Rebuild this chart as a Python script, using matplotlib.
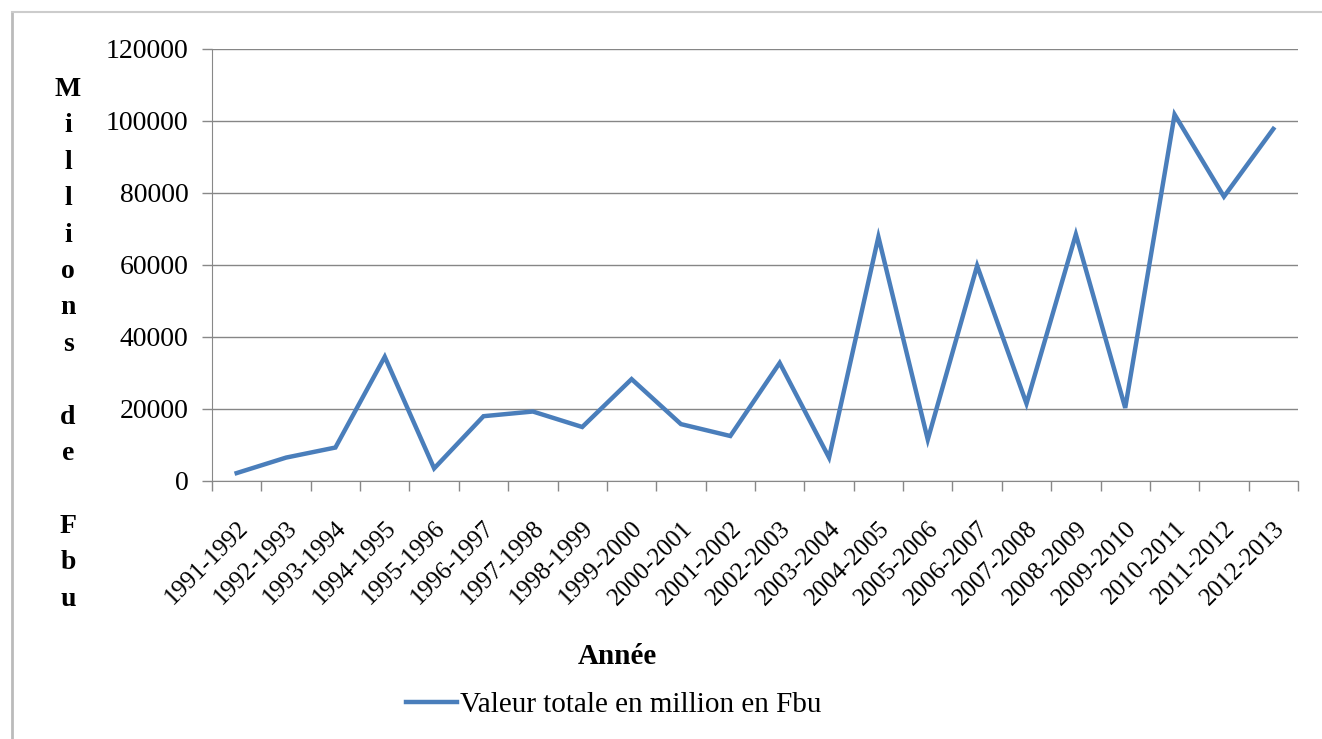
import matplotlib
matplotlib.use("Agg")
import matplotlib.pyplot as plt
from matplotlib.lines import Line2D

years = ["1991-1992", "1992-1993", "1993-1994", "1994-1995", "1995-1996",
         "1996-1997", "1997-1998", "1998-1999", "1999-2000", "2000-2001",
         "2001-2002", "2002-2003", "2003-2004", "2004-2005", "2005-2006",
         "2006-2007", "2007-2008", "2008-2009", "2009-2010", "2010-2011",
         "2011-2012", "2012-2013"]
valeurs = [2200, 6500, 9300, 34500, 3500, 18000, 19300, 15000, 28300, 15800,
           12500, 32800, 6500, 67800, 11500, 59800, 21500, 68500, 20300,
           101800, 79000, 97800]
yticks = [0, 20000, 40000, 60000, 80000, 100000, 120000]
serie_label = "Valeur totale en million en Fbu"
ylabel_text = "Millions de Fbu"
xlabel_text = "Année"

plt.rcParams['font.family'] = ['Liberation Serif', 'DejaVu Serif']

fig = plt.figure(figsize=(13.22, 7.39), dpi=100)
ax = fig.add_axes([212/1322, 1 - 481/739, (1298 - 212)/1322, (481 - 49)/739])

x = list(range(len(years)))
ax.plot(x, valeurs, color='#4a7ebb', linewidth=3.2, solid_joinstyle='miter')

ax.set_xlim(-0.5, len(years) - 0.5)
ax.set_ylim(0, 120000)
ax.set_yticks(yticks)
ax.set_yticklabels([str(v) for v in yticks], fontsize=20)
ax.set_xticks(x)
ax.set_xticklabels(years, rotation=45, ha='right', rotation_mode='anchor', fontsize=18)
ax.set_xticks([i - 0.5 for i in range(len(years) + 1)], minor=True)
ax.tick_params(axis='x', which='major', length=0, pad=26)
ax.tick_params(axis='x', which='minor', length=7, color='#888888', width=1)
ax.tick_params(axis='y', which='major', length=7, color='#888888', width=1, pad=10)

ax.grid(axis='y', color='#868686', linewidth=1.0)
ax.set_axisbelow(True)
for s in ['top', 'right']:
    ax.spines[s].set_visible(False)
ax.spines['left'].set_color('#888888')
ax.spines['bottom'].set_color('#888888')

# vertical stacked y label
fig.text(68/1322, 1 - 77/739, "\n".join(list(ylabel_text)), fontsize=20,
         fontweight='bold', ha='center', va='top', linespacing=1.60,
         multialignment='center')

fig.text(617/1322, 1 - 657/739, xlabel_text, fontsize=21, fontweight='bold',
         ha='center', va='center')

handle = Line2D([], [], color='#4a7ebb', linewidth=3.2)
fig.legend([handle], [serie_label], loc='center', bbox_to_anchor=(614/1322, 1 - 705/739),
           frameon=False, fontsize=21, handlelength=1.75, handletextpad=0.1)

# outer frame (left and top borders)
fig.add_artist(Line2D([12/1322, 12/1322], [0, 1 - 12/739], transform=fig.transFigure,
                      color='#bbbbbb', linewidth=2))
fig.add_artist(Line2D([12/1322, 1], [1 - 12/739, 1 - 12/739], transform=fig.transFigure,
                      color='#cccccc', linewidth=1.5))

fig.savefig("out.png", dpi=100)
